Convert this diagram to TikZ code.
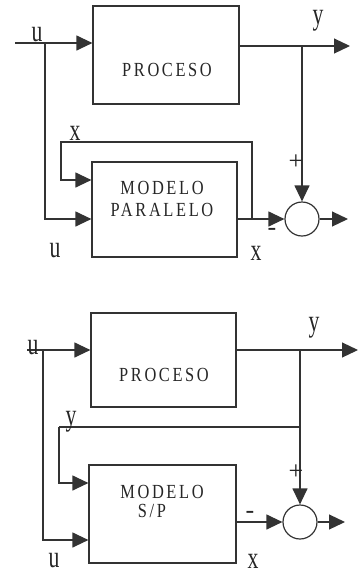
\documentclass[tikz,border=0pt]{standalone}
\usepackage{fontspec}
\setmainfont{Liberation Serif}
\newfontfamily\boxfont[LetterSpace=16]{Liberation Serif}
\usetikzlibrary{arrows.meta,calc}
\tikzset{
  ln/.style={draw=black!80, line width=1.2pt},
  arr/.style={ln, -{Triangle[length=16pt,width=15pt]}},
  blk/.style={ln, rectangle, inner sep=0pt},
  sumc/.style={ln, circle, minimum size=34pt, inner sep=0pt},
  btxt/.style={inner sep=0pt, text=black!85, font=\boxfont\fontsize{20}{20}\selectfont},
  lbl/.style={inner sep=0pt, text=black!85, font=\fontsize{31}{31}\selectfont},
  sgn/.style={inner sep=0pt, text=black!85, font=\fontsize{26}{26}\selectfont},
}
\newcommand{\cx}[1]{\scalebox{0.82}[1]{#1}}
\newcommand{\lx}[1]{\scalebox{0.7}[1]{#1}}
\begin{document}
\begin{tikzpicture}[x=1pt,y=-1pt]
\useasboundingbox (0,0) rectangle (359,574);
% ---------- top diagram ----------
\node[blk, minimum width=146pt, minimum height=98pt] (P1) at (166,55) {};
\node[btxt] (P1t) at (167,70) {\cx{PROCESO}};
\node[blk, minimum width=145pt, minimum height=95pt] (M1) at (164.5,209.5) {};
\node[btxt] (M1a) at (162,188) {\cx{MODELO}};
\node[btxt] (M1b) at (162,210) {\cx{PARALELO}};
\node[sumc] (S1) at (302,219) {};
\coordinate (in1) at (15,43);
\coordinate (b1) at (45,43);
\coordinate (j1) at (302,46);
\coordinate (yo1) at (350,46);
\coordinate (so1) at (348,219);
\coordinate (f1) at (252,219);
\coordinate (f1a) at (252,142);
\coordinate (f1b) at (61,142);
\draw[arr] (in1) -- (in1 -| P1.west);
\draw[arr] (b1) |- (M1.west |- S1.west);
\draw[arr] (j1 -| P1.east) -- (yo1);
\draw[arr] (j1) -- (S1.north);
\draw[arr] (M1.east |- S1.west) -- (S1.west);
\draw[arr] (f1) -- (f1a) -- (f1b) |- (M1.west |- 0,180);
\draw[arr] (S1.east) -- (so1);
\node[lbl] (u1a) at (37,35) {\lx{u}};
\node[lbl] (y1) at (318,21) {\lx{y}};
\node[sgn] (p1) at (296,162) {+};
\node[sgn] (m1) at (272,232) {-};
\node[lbl] (x1a) at (75,133) {\lx{x}};
\node[lbl] (u1b) at (55,251) {\lx{u}};
\node[lbl] (x1b) at (256,253) {\lx{x}};
% ---------- bottom diagram ----------
\node[blk, minimum width=145pt, minimum height=94pt] (P2) at (163.5,360) {};
\node[btxt] (P2t) at (164,375) {\cx{PROCESO}};
\node[blk, minimum width=147pt, minimum height=98pt] (M2) at (162.5,514) {};
\node[btxt] (M2a) at (162,492) {\cx{MODELO}};
\node[btxt] (M2b) at (152,511) {\cx{S/P}};
\node[sumc] (S2) at (300,522) {};
\coordinate (in2) at (27,350);
\coordinate (b2) at (43,350);
\coordinate (j2) at (300,350);
\coordinate (yo2) at (358,350);
\coordinate (so2) at (345,522);
\coordinate (g2) at (300,427);
\coordinate (g2b) at (59,427);
\draw[arr] (in2) -- (in2 -| P2.west);
\draw[arr] (b2) |- (M2.west |- 0,540);
\draw[arr] (j2 -| P2.east) -- (yo2);
\draw[arr] (j2) -- (S2.north);
\draw[ln] (g2) -- (g2b);
\draw[arr] (g2b) |- (M2.west |- 0,483);
\draw[arr] (M2.east |- S2.west) -- (S2.west);
\draw[arr] (S2.east) -- (so2);
\node[lbl] (u2a) at (33,348) {\lx{u}};
\node[lbl] (y2a) at (314,328) {\lx{y}};
\node[lbl] (y2b) at (71,422) {\lx{y}};
\node[sgn] (p2) at (296,472) {+};
\node[sgn] (m2) at (250,515) {-};
\node[lbl] (u2b) at (54,561) {\lx{u}};
\node[lbl] (x2) at (253,561) {\lx{x}};
\end{tikzpicture}
\end{document}
